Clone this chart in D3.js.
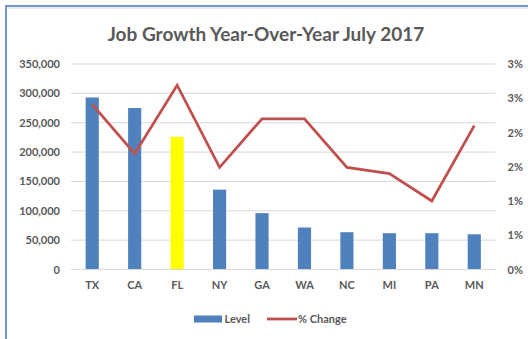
<!DOCTYPE html>
<html><head><meta charset="utf-8">
<script src="https://cdn.jsdelivr.net/npm/d3@7"></script>
<style>body{margin:0;background:#fff;}svg{display:block;}</style>
</head><body><div id="chart"></div>
<script>
const categories = ["TX","CA","FL","NY","GA","WA","NC","MI","PA","MN"];
const levels = [293000, 275000, 226000, 136000, 96000, 71500, 63500, 61800, 61800, 60000];
const pctChange = [0.0241, 0.0169, 0.0269, 0.0149, 0.0220, 0.0220, 0.0149, 0.0140, 0.0100, 0.0210];
const highlight = ["FL"];
const leftTicks = [0, 50000, 100000, 150000, 200000, 250000, 300000, 350000];
const rightTicks = [0, 0.005, 0.01, 0.015, 0.02, 0.025, 0.03];
const title = "Job Growth Year-Over-Year July 2017";
const legendLabels = ["Level", "% Change"];

const W = 528, H = 339;
const font = "Lato, 'Open Sans', sans-serif";
const textColor = "#595959";
const svg = d3.select("#chart").append("svg").attr("width", W).attr("height", H);

// frame
svg.append("path").attr("d", `M6,${H} L6,6 L${W},6`).attr("fill","none")
  .attr("stroke","#6f97c9").attr("stroke-width",2);
svg.append("line").attr("x1",8).attr("x2",W).attr("y1",8).attr("y2",8).attr("stroke","#c9d8ec").attr("stroke-width",1);

const x = d3.scaleBand().domain(categories).range([71, 495.5]).paddingInner(0.69).paddingOuter(0.345);
const yL = d3.scaleLinear().domain([0, 350000]).range([269.5, 64]);
const yR = d3.scaleLinear().domain([0, 0.03]).range([269.5, 64]);

// gridlines
svg.append("g").selectAll("line").data(leftTicks.slice(1)).join("line")
  .attr("x1", 71).attr("x2", 495.5)
  .attr("y1", d => yL(d)).attr("y2", d => yL(d))
  .attr("stroke", "#d9d9d9").attr("stroke-width", 1);

// left axis
const axL = svg.append("g").attr("transform", "translate(71,0)")
  .call(d3.axisLeft(yL).tickValues(leftTicks).tickFormat(d3.format(",")).tickSize(0).tickPadding(11));
axL.select(".domain").remove();
axL.selectAll("text").attr("fill", textColor).attr("font-family", font).attr("font-size", 11).attr("font-weight","bold");

// right axis
const axR = svg.append("g").attr("transform", "translate(495.5,0)")
  .call(d3.axisRight(yR).tickValues(rightTicks).tickFormat(d => (Math.round(d*100 + 1e-9)) + "%").tickSize(0).tickPadding(12));
axR.select(".domain").remove();
axR.selectAll("text").attr("fill", textColor).attr("font-family", font).attr("font-size", 11).attr("font-weight","bold");

// bars
svg.append("g").selectAll("rect").data(categories).join("rect")
  .attr("x", d => x(d)).attr("width", x.bandwidth())
  .attr("y", (d,i) => yL(levels[i])).attr("height", (d,i) => yL(0) - yL(levels[i]))
  .attr("fill", d => highlight.includes(d) ? "#ffff00" : "#4f81bd");

// baseline
svg.append("line").attr("x1",71).attr("x2",495.5).attr("y1",yL(0)).attr("y2",yL(0)).attr("stroke","#d9d9d9");

// line
const line = d3.line().x((d,i) => x(categories[i]) + x.bandwidth()/2).y(d => yR(d));
svg.append("path").datum(pctChange).attr("d", line).attr("fill","none")
  .attr("stroke","#c0504d").attr("stroke-width",2.75).attr("stroke-linejoin","miter");

// x axis labels
const axX = svg.append("g").attr("transform", `translate(0,${yL(0)})`)
  .call(d3.axisBottom(x).tickSize(0).tickPadding(12));
axX.select(".domain").remove();
axX.selectAll("text").attr("fill", textColor).attr("font-family", font).attr("font-size", 11).attr("font-weight","bold");

// title
svg.append("text").attr("x", 266).attr("y", 41).attr("text-anchor","middle")
  .attr("font-family", font).attr("font-size", 19).attr("font-weight","bold").attr("fill", textColor).text(title);

// legend
const lg = svg.append("g");
lg.append("rect").attr("x",194).attr("y",315.5).attr("width",28).attr("height",7).attr("fill","#4f81bd");
lg.append("text").attr("x",224.5).attr("y",323).attr("font-family",font).attr("font-size",11).attr("font-weight","bold").attr("fill",textColor).text(legendLabels[0]);
lg.append("line").attr("x1",267).attr("x2",297).attr("y1",319).attr("y2",319).attr("stroke","#c0504d").attr("stroke-width",2.75);
lg.append("text").attr("x",298).attr("y",323).attr("font-family",font).attr("font-size",11).attr("font-weight","bold").attr("fill",textColor).text(legendLabels[1]);
</script></body></html>
